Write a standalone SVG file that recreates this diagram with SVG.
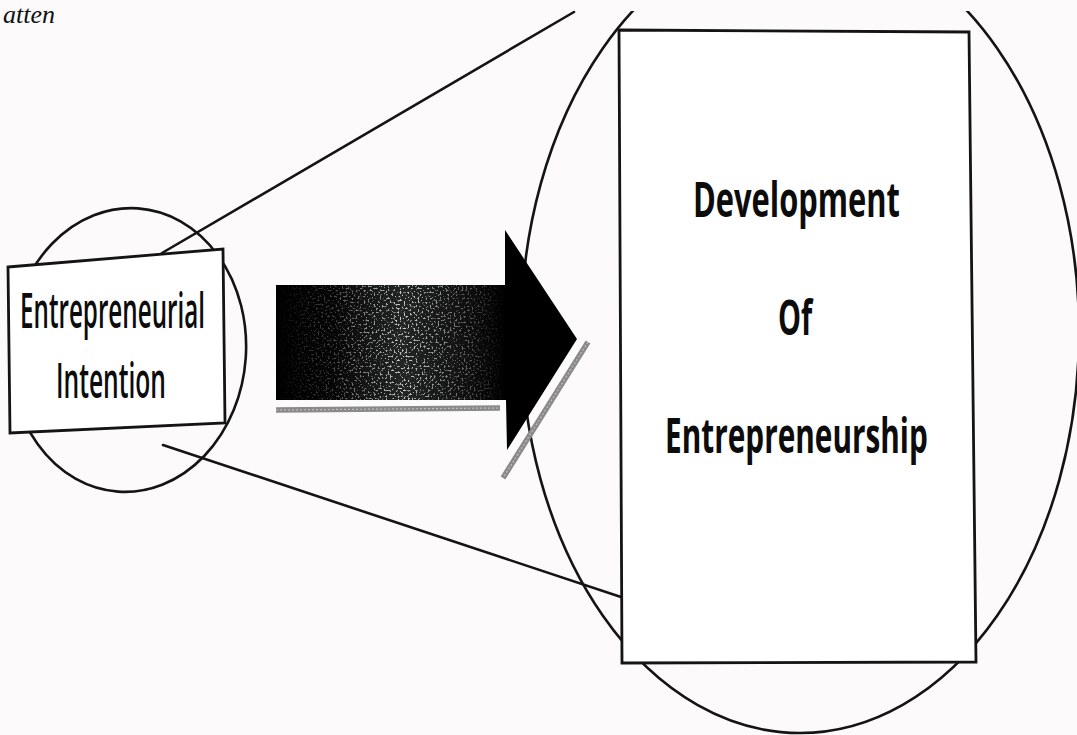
<svg xmlns="http://www.w3.org/2000/svg" width="1077" height="735" viewBox="0 0 1077 735">
  <style>
    .ln { fill: none; stroke: #141414; stroke-width: 2.6; stroke-linecap: round; }
    .box { fill: #ffffff; stroke: #141414; stroke-width: 2.8; stroke-linejoin: miter; }
    .t1 { font-family: "Open Sans", "Liberation Sans", sans-serif; font-size: 48px; font-weight: 600; fill: #0c0c0c; }
    .t2 { font-family: "Open Sans", "Liberation Sans", sans-serif; font-size: 48px; font-weight: 700; fill: #0c0c0c; }
    .shadow { fill: none; stroke: #8a8a8a; stroke-width: 5.5; }
    .shadowhi { fill: none; stroke: #bdbdbd; stroke-width: 1.2; stroke-dasharray: 2 2; }
  </style>
  <defs>
    <clipPath id="topClip">
      <rect x="0" y="11" width="1077" height="724"/>
    </clipPath>
    <linearGradient id="bodyGrad" x1="0" y1="0" x2="1" y2="0">
      <stop offset="0" stop-color="#000"/>
      <stop offset="0.25" stop-color="#060606"/>
      <stop offset="0.55" stop-color="#222523"/>
      <stop offset="0.85" stop-color="#0e0e0e"/>
      <stop offset="1" stop-color="#000"/>
    </linearGradient>
    <linearGradient id="speckMaskGrad" x1="0" y1="0" x2="1" y2="0">
      <stop offset="0" stop-color="#000"/>
      <stop offset="0.25" stop-color="#555"/>
      <stop offset="0.55" stop-color="#fff"/>
      <stop offset="0.85" stop-color="#666"/>
      <stop offset="1" stop-color="#000"/>
    </linearGradient>
    <mask id="speckMask">
      <rect x="276" y="285" width="229" height="115" fill="url(#speckMaskGrad)"/>
    </mask>
    <filter id="speck" x="0" y="0" width="100%" height="100%">
      <feTurbulence type="fractalNoise" baseFrequency="0.5" numOctaves="2" seed="7" result="n"/>
      <feColorMatrix in="n" type="matrix" values="0 0 0 0 0.55  0 0 0 0 0.6  0 0 0 0 0.58  0 0 0 7 -3.9"/>
    </filter>
  </defs>

  <rect x="0" y="0" width="1077" height="735" fill="#fcfafa"/>

  <text x="3" y="23" font-family="Liberation Serif, serif" font-style="italic" font-size="26" fill="#111">atten</text>

  <g id="node-development-outline" clip-path="url(#topClip)">
    <ellipse cx="800" cy="332" rx="279" ry="401" class="ln"/>
  </g>

  <g id="node-intention-outline">
    <ellipse cx="128" cy="350" rx="118" ry="142" transform="rotate(4 128 350)" class="ln"/>
  </g>

  <g id="connectors">
    <line x1="162" y1="253" x2="574" y2="12" class="ln"/>
    <line x1="163" y1="445" x2="621" y2="597" class="ln"/>
    <g id="arrow">
      <line x1="276" y1="410" x2="500" y2="408" class="shadow"/>
      <line x1="276" y1="410" x2="500" y2="408" class="shadowhi"/>
      <line x1="588" y1="342" x2="503" y2="478" class="shadow"/>
      <line x1="588" y1="342" x2="503" y2="478" class="shadowhi"/>
      <polygon points="276,285 505,285 505,230 577,339 507,450 506,400 276,400" fill="#000"/>
      <rect x="276" y="285" width="229" height="115" fill="url(#bodyGrad)"/>
      <rect x="276" y="285" width="229" height="115" filter="url(#speck)" mask="url(#speckMask)"/>
    </g>
  </g>

  <g id="node-intention">
    <polygon points="8,267 223,249 225,423 10,433" class="box"/>
    <text transform="translate(20 328) scale(0.5 1)" x="0" y="0" textLength="370" lengthAdjust="spacingAndGlyphs" class="t1">Entrepreneurial</text>
    <text transform="translate(56 398) scale(0.5 1)" x="0" y="0" textLength="220" lengthAdjust="spacingAndGlyphs" class="t1">Intention</text>
  </g>

  <g id="node-development">
    <polygon points="619,30 969,32 976,662 622,663" class="box"/>
    <text transform="translate(693 217) scale(0.6 1)" x="0" y="0" textLength="345" lengthAdjust="spacingAndGlyphs" class="t2">Development</text>
    <text transform="translate(778 335) scale(0.6 1)" x="0" y="0" textLength="57" lengthAdjust="spacingAndGlyphs" class="t2">Of</text>
    <text transform="translate(665 453) scale(0.6 1)" x="0" y="0" textLength="438" lengthAdjust="spacingAndGlyphs" class="t2">Entrepreneurship</text>
  </g>
</svg>
